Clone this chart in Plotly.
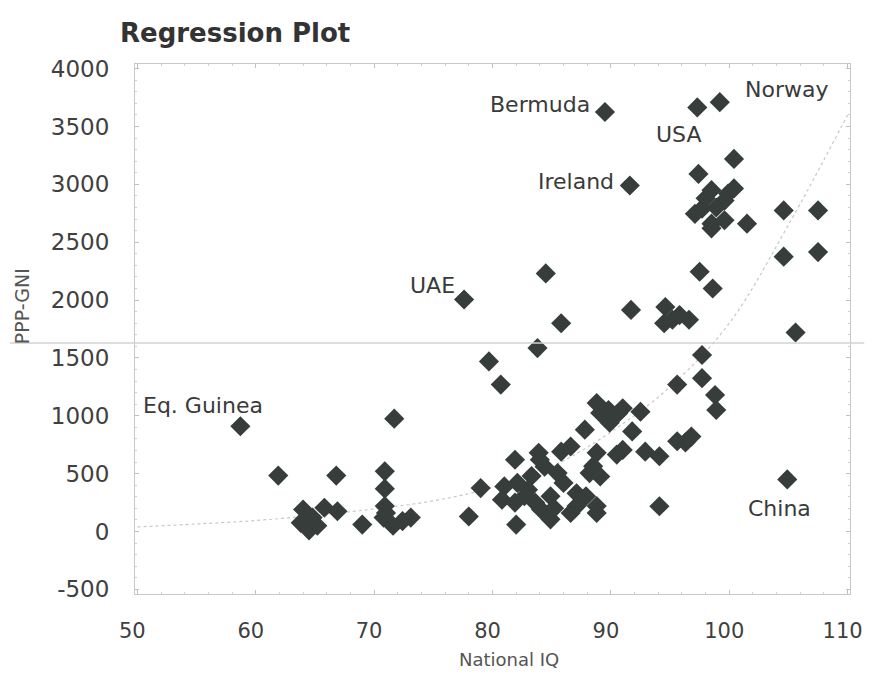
import plotly.graph_objects as go

# ---- data ----
iq = [58.7, 61.9, 66.8, 71.7, 70.9, 70.9, 64.0, 63.8, 64.5, 65.2, 65.8, 66.9, 64.8, 69.0,
      70.9, 70.8, 71.6, 72.4, 73.1, 71.0,
      77.6, 84.5, 85.8, 83.8, 79.7, 80.7, 78.0, 79.0, 81.9, 81.0, 82.1, 83.3, 84.4, 85.5,
      86.0, 80.8, 81.9, 82.7, 84.1, 84.9, 82.0, 83.0, 84.9, 86.6, 87.1, 87.9, 88.8, 88.8,
      87.1, 83.9, 84.0, 83.6, 85.2, 86.6, 85.8, 87.8, 88.8, 88.5, 90.5, 91.0, 88.2, 89.1,
      88.8, 89.8, 91.0, 89.9, 89.1, 92.5, 91.8, 92.9, 94.1, 94.1, 90.6,
      95.6, 96.8, 96.3, 95.6, 97.7, 97.7, 98.8, 98.9, 105.6, 104.9, 91.7, 94.6, 95.2, 96.6,
      94.5, 95.8, 97.5, 98.6, 104.6, 107.5, 104.6, 107.5, 89.5, 97.3, 99.2, 100.4, 97.4,
      91.6, 98.5, 100.4, 99.6, 97.7, 98.5, 97.1, 99.6, 98.9, 98.5, 101.5, 98.0, 99.9]
gni = [910, 483, 483, 975, 520, 370, 190, 75, 10, 50, 205, 175, 120, 60,
       220, 120, 50, 90, 120, 160,
       2005, 2230, 1800, 1585, 1470, 1270, 130, 375, 620, 390, 420, 480, 560, 505,
       420, 275, 250, 305, 190, 105, 60, 360, 305, 160, 330, 305, 220, 160,
       220, 680, 620, 250, 200, 735, 690, 880, 680, 565, 665, 705, 505, 475,
       1110, 1050, 1065, 940, 1025, 1035, 865, 690, 650, 218, 1020,
       780, 820, 770, 1270, 1525, 1325, 1180, 1050, 1720, 450, 1915, 1940, 1830, 1830,
       1800, 1870, 2245, 2100, 2375, 2415, 2775, 2775, 3625, 3665, 3710, 3220, 3090,
       2990, 2950, 2965, 2860, 2790, 2660, 2745, 2690, 2800, 2620, 2660, 2880, 2920]

# labelled countries: (name, IQ, PPP-GNI) of the labelled points above
labelled = [("Eq. Guinea", 58.7, 910), ("UAE", 77.6, 2005), ("China", 104.9, 450),
            ("Bermuda", 89.5, 3625), ("USA", 97.3, 3665), ("Norway", 99.2, 3710),
            ("Ireland", 91.6, 2990)]

fit_iq = [50, 55, 60, 65, 70, 75, 80, 85, 90, 95, 100, 105, 110]
fit_gni = [40, 65, 95, 140, 195, 265, 380, 560, 860, 1250, 1800, 2650, 3600]

x_ticks = [50, 60, 70, 80, 90, 100, 110]
y_ticks = [-500, 0, 500, 1000, 1500, 2000, 2500, 3000, 3500, 4000]
y_tick_text = ["-500", "0", "500", "1000", "1500", "2000", "2500", "3000", "3500", "4000"]

# ---- label placement (pixel offsets from the labelled point) ----
label_style = {
    "Eq. Guinea": dict(xanchor="center", xshift=-37, yshift=21),
    "UAE": dict(xanchor="right", xshift=-7, yshift=14),
    "China": dict(xanchor="center", xshift=-8, yshift=-29),
    "Bermuda": dict(xanchor="right", xshift=-13, yshift=8),
    "USA": dict(xanchor="center", xshift=-18, yshift=-27),
    "Norway": dict(xanchor="left", xshift=23, yshift=13),
    "Ireland": dict(xanchor="right", xshift=-14, yshift=4),
}

FONT = "DejaVu Sans"
TXT = "#3a3a3a"

# the page adds an 8px body margin on every side; size the figure so the page is 883x679
W, H = 867, 663

fig = go.Figure()
fig.add_trace(go.Scatter(
    x=fit_iq, y=fit_gni, mode="lines", line=dict(color="#c8c8c8", width=1.2, dash="dot", shape="spline"),
    hoverinfo="skip", showlegend=False))
fig.add_trace(go.Scatter(
    x=iq, y=gni, mode="markers",
    marker=dict(symbol="diamond", size=15.5, color="#363d3b", line=dict(width=0)),
    showlegend=False))

annotations = []
for name, xi, yi in labelled:
    st = label_style[name]
    annotations.append(dict(x=xi, y=yi, xref="x", yref="y", text=name, showarrow=False,
                            font=dict(family=FONT, size=22, color=TXT),
                            yanchor="middle", **st))
annotations.append(dict(text="National IQ", xref="paper", yref="paper", x=0.523, y=-0.1245,
                        showarrow=False, xanchor="center", yanchor="middle",
                        font=dict(family=FONT, size=18, color="#555555")))
annotations.append(dict(text="PPP-GNI", xref="paper", yref="paper", x=-0.158, y=0.543,
                        textangle=-90, showarrow=False, xanchor="center", yanchor="middle",
                        font=dict(family=FONT, size=19, color="#555555")))

axis_common = dict(showgrid=False, zeroline=False, showline=True, linecolor="#c8c8c8", linewidth=1,
                   mirror="ticks", ticks="inside", ticklen=4, tickcolor="#c0c0c0",
                   minor=dict(ticks="inside", ticklen=2, tickcolor="#d0d0d0"))

fig.update_layout(
    width=W, height=H, autosize=False,
    margin=dict(l=127, r=15, t=56, b=77),
    paper_bgcolor="white", plot_bgcolor="white",
    title=dict(text="<b>Regression Plot</b>", x=112 / W, xref="container", xanchor="left",
               y=1 - 25 / H, yref="container", yanchor="middle",
               font=dict(family=FONT, size=26, color="#333333")),
    xaxis=dict(range=[49.8, 110.2], tickvals=x_ticks, ticklabelstandoff=18, ticklabelshift=-5,
               minor_dtick=2,
               tickfont=dict(family=FONT, size=21, color="#404040"), **axis_common),
    yaxis=dict(range=[-540, 4040], tickvals=y_ticks, ticktext=y_tick_text, ticklabelstandoff=20,
               minor_dtick=100,
               tickfont=dict(family=FONT, size=23, color="#404040"), **axis_common),
    annotations=annotations,
    shapes=[dict(type="line", xref="paper", yref="paper", x0=-0.175, x1=1.02,
                 y0=0.4736, y1=0.4736, line=dict(color="#d2d2d2", width=1.5))],
)

fig.write_html("out.html", config={"displayModeBar": False})
